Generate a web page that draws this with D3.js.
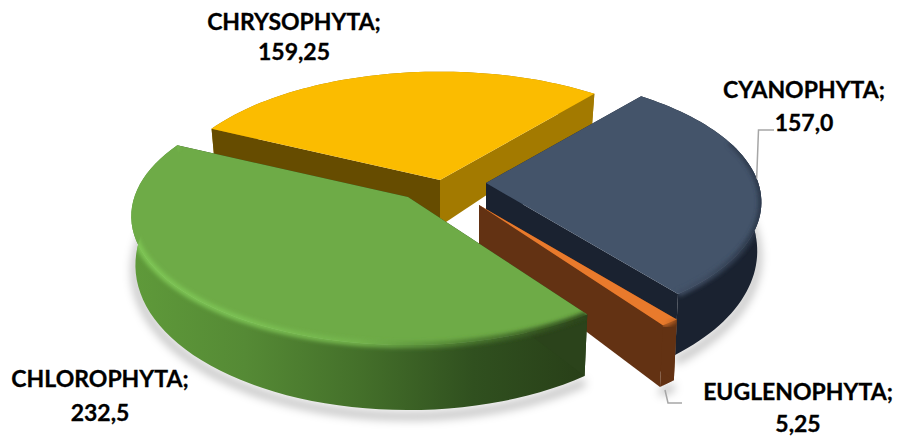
<!DOCTYPE html>
<html><head><meta charset="utf-8">
<script src="https://cdn.jsdelivr.net/npm/d3@7"></script>
<style>html,body{margin:0;padding:0;background:#fff}svg{display:block}text{font-family:Lato,"Open Sans",sans-serif;font-weight:700;fill:#000;stroke:#000;stroke-width:.3px;font-size:23px}</style>
</head><body><svg id="c" width="897" height="438"></svg>
<script>
const categories = ["CHRYSOPHYTA","CYANOPHYTA","EUGLENOPHYTA","CHLOROPHYTA"];
const values = [159.25,157.0,5.25,232.5];
const valueLabels = ["159,25","157,0","5,25","232,5"];

const topColors  = ["#fbbc00","#44546a","#e97a2c","#6eab47"];
const startWall  = ["#664c00","#1a2230","#633213","#2b431b"];
const endWall    = ["#a37a00","#1a2230","#633213","#2b431b"];
const arcStops   = [["#a37a00","#a37a00"],["#1a2230","#1a2230"],["#633213","#633213"],["#5f9a3a","#558a35","#44702a","#30501f","#283f18"]];
const bevelStops = [null,["#44546a","#3d4b60","#2a3648"],["#e97a2c","#b05d22"],["#7fc755","#7cc254","#74b54d","#4b7a2f","#2c461c"]];
const explodeX = [-6,40,33,-38];
const explodeY = [-8,-5,17,9];
const radiusScale = [.985,.99,1.02,.995];
const labelX = [294,804,798,100];
const labelY = [[30,60],[98,131],[400,432],[387,421]];

const R=275,K=.46,P=.15,CX=446,CY=188,START=-64,LOWER_X=.985;
const deg=d3.scaleLinear().domain([0,360]).range([0,2*Math.PI]);
const svg=d3.select("#c"), defs=svg.append("defs");
const blur=(id,s)=>defs.append("filter").attr("id",id).attr("x","-20%").attr("y","-20%").attr("width","140%").attr("height","140%").append("feGaussianBlur").attr("stdDeviation",s);
blur("b2",2);blur("b5",5);

const arcs=d3.pie().sort(null).value(d=>d).startAngle(deg(START)).endAngle(deg(START+360))(values);
const depth=v=>46-19*v;
const pt=(i,a,r,low)=>{
  const u=Math.sin(a)*r, v=Math.cos(a)*r, w=1/(1+P*v), rr=R*radiusScale[i];
  return [CX+explodeX[i]+rr*u*w*(low?LOWER_X:1), CY+explodeY[i]-rr*K*v*w+(low?depth(v):0)];
};
const samp=(a0,a1)=>d3.range(0,61).map(j=>a0+(a1-a0)*j/60);
const line=d3.line();
const grad=(id,stops,x0,x1)=>{
  const g=defs.append("linearGradient").attr("id",id).attr("gradientUnits","userSpaceOnUse").attr("x1",x0).attr("x2",x1).attr("y1",0).attr("y2",0);
  stops.forEach((c,j)=>g.append("stop").attr("offset",j/(stops.length-1)).attr("stop-color",c));
};

// soft ground shadows
const shadow=svg.append("g").attr("filter","url(#b5)").attr("fill","none").attr("stroke","#000").attr("stroke-opacity",.28).attr("stroke-width",7).attr("transform","translate(0,6)");
arcs.forEach((d,i)=>{
  if(i===0) return;
  shadow.append("path").attr("d",line(samp(Math.max(d.startAngle,deg(55)),d.endAngle).map(a=>pt(i,a,1,true))));
});

const gAll=svg.append("g");
arcs.forEach((d,i)=>{
  const g=gAll.append("g").attr("class","slice").attr("data-cat",categories[i]);
  const as=samp(d.startAngle,d.endAngle);
  const topArc=as.map(a=>pt(i,a,1,false)), lowArc=as.map(a=>pt(i,a,1,true));
  const apexT=pt(i,0,0,false), apexL=pt(i,0,0,true);
  const xs=topArc.map(p=>p[0]);
  const x0=d3.min(xs),x1=d3.max(xs);
  grad("w"+i,arcStops[i],x0,x1);
  g.append("path").attr("d",line(topArc.concat(lowArc.slice().reverse()))+"Z").attr("fill",`url(#w${i})`);
  const wall=(a,c)=>g.append("path").attr("d",line([apexT,pt(i,a,1,false),pt(i,a,1,true),apexL])+"Z").attr("fill",c);
  wall(d.startAngle,startWall[i]);
  wall(d.endAngle,endWall[i]);
  const topD=line([apexT].concat(topArc))+"Z";
  g.append("path").attr("d",topD).attr("fill",topColors[i]);
  if(bevelStops[i]){
    grad("v"+i,bevelStops[i],x0,x1);
    const clip=defs.append("clipPath").attr("id","k"+i);
    clip.append("path").attr("d",line(topArc.concat(lowArc.slice().reverse()))+"Z");
    clip.append("path").attr("d",topD);
    const a0=Math.max(d.startAngle,deg(70));
    g.append("g").attr("clip-path",`url(#k${i})`).append("path")
      .attr("d",line(samp(i===1?a0:d.startAngle,d.endAngle).map(a=>pt(i,a,1,false))))
      .attr("fill","none").attr("stroke",`url(#v${i})`).attr("stroke-width",i===2?4:6).attr("filter","url(#b2)");
  }
});

// leader lines
const leaders=[[pt(1,deg(88),1,false),[758.5,130],[774,130]],[[665,390],[668,403],[682,403]]];
svg.append("g").attr("fill","none").attr("stroke","#a6a6a6").attr("stroke-width",1.5)
  .selectAll("path").data(leaders).join("path").attr("d",d=>line(d));

// labels
categories.forEach((c,i)=>{
  const t=svg.append("text").attr("text-anchor","middle");
  t.append("tspan").attr("x",labelX[i]).attr("y",labelY[i][0]).text(c+";");
  t.append("tspan").attr("x",labelX[i]).attr("y",labelY[i][1]).text(valueLabels[i]);
});
</script></body></html>
